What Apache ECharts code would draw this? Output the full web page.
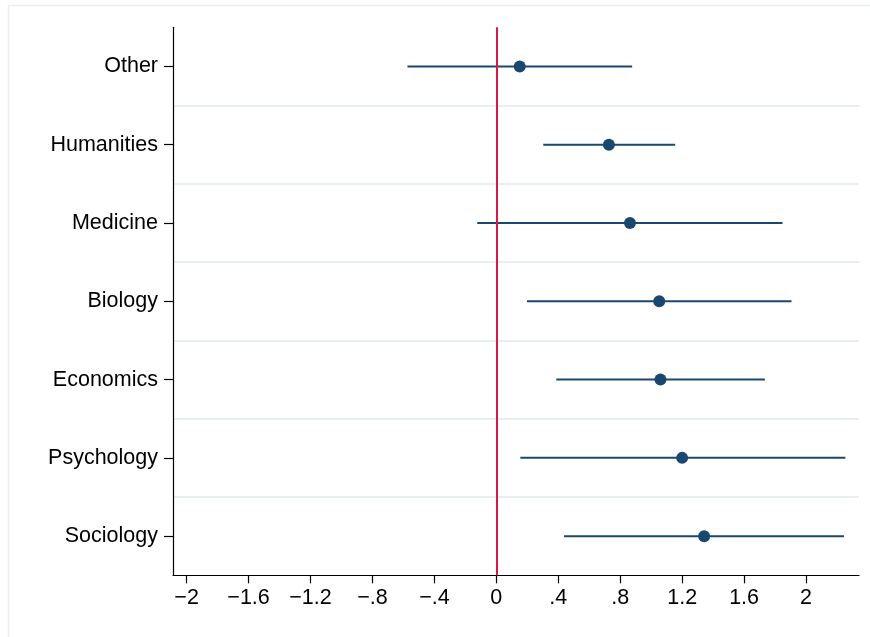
<!DOCTYPE html>
<html>
<head>
<meta charset="utf-8">
<script src="https://cdn.jsdelivr.net/npm/echarts@6/dist/echarts.min.js"></script>
<style>
html,body{margin:0;padding:0;background:#fff;}
#chart{width:870px;height:637px;}
</style>
</head>
<body>
<div id="chart"></div>
<script>
var categories = ['Other','Humanities','Medicine','Biology','Economics','Psychology','Sociology'];
var estimates = [0.151, 0.727, 0.863, 1.052, 1.060, 1.200, 1.342];
var lowerCI = [-0.574, 0.303, -0.123, 0.198, 0.387, 0.155, 0.437];
var upperCI = [0.877, 1.155, 1.848, 1.906, 1.734, 2.254, 2.245];
var xTicks = [-2, -1.6, -1.2, -0.8, -0.4, 0, 0.4, 0.8, 1.2, 1.6, 2];
var refLine = 0;

var navy = '#1a476f';
var font = "'Liberation Sans', Arial, Helvetica, sans-serif";

function fmt(v) {
  var r = Math.round(v * 10) / 10;
  if (r === 0) return '0';
  var s = String(Math.abs(r));
  if (s.indexOf('0.') === 0) s = s.substring(1);
  return (r < 0 ? '\u2212' : '') + s;
}

var ciData = categories.map(function (c, i) { return [lowerCI[i], upperCI[i], i]; });
var ptData = categories.map(function (c, i) { return [estimates[i], i]; });

var chart = echarts.init(document.getElementById('chart'), null, {renderer: 'canvas'});
chart.setOption({
  backgroundColor: '#ffffff',
  animation: false,
  textStyle: {fontFamily: font},
  graphic: [{
    type: 'rect', silent: true, z: -1,
    shape: {x: 8.5, y: 5.5, width: 900, height: 700},
    style: {fill: 'none', stroke: '#e8eff1', lineWidth: 1.5}
  }],
  grid: {left: 173, right: 11, top: 27.3, bottom: 61.7, containLabel: false},
  xAxis: {
    type: 'value',
    min: -2.088, max: 2.342,
    axisLine: {show: true, onZero: false, lineStyle: {color: '#000', width: 1.2}},
    axisTick: {show: true, length: 8, customValues: xTicks, lineStyle: {color: '#000', width: 1.2}},
    axisLabel: {customValues: xTicks, color: '#000', fontSize: 21.5, fontFamily: font, margin: 12, formatter: fmt},
    splitLine: {show: false}
  },
  yAxis: {
    type: 'category',
    data: categories,
    inverse: true,
    boundaryGap: true,
    axisLine: {show: true, onZero: false, lineStyle: {color: '#000', width: 1.2}},
    axisTick: {show: true, alignWithLabel: true, length: 9, lineStyle: {color: '#000', width: 1.2}},
    axisLabel: {color: '#000', fontSize: 21.5, fontFamily: font, margin: 15, padding: [4, 0, 0, 0]},
    splitLine: {show: true, showMinLine: false, showMaxLine: false, lineStyle: {color: '#e8eff1', width: 2}}
  },
  series: [
    {
      type: 'custom',
      z: 2,
      data: ciData,
      encode: {x: [0, 1], y: 2},
      renderItem: function (params, api) {
        var p1 = api.coord([api.value(0), api.value(2)]);
        var p2 = api.coord([api.value(1), api.value(2)]);
        return {
          type: 'line',
          shape: {x1: p1[0], y1: p1[1], x2: p2[0], y2: p2[1]},
          style: {stroke: navy, lineWidth: 2}
        };
      }
    },
    {
      type: 'scatter',
      z: 3,
      data: ptData,
      symbol: 'circle',
      symbolSize: 12,
      itemStyle: {color: navy, opacity: 1}
    },
    {
      type: 'scatter',
      z: 5,
      data: [],
      markLine: {
        silent: true,
        symbol: 'none',
        label: {show: false},
        lineStyle: {color: '#d8174a', width: 2, type: 'solid'},
        data: [{xAxis: refLine}]
      }
    }
  ]
});
</script>
</body>
</html>
